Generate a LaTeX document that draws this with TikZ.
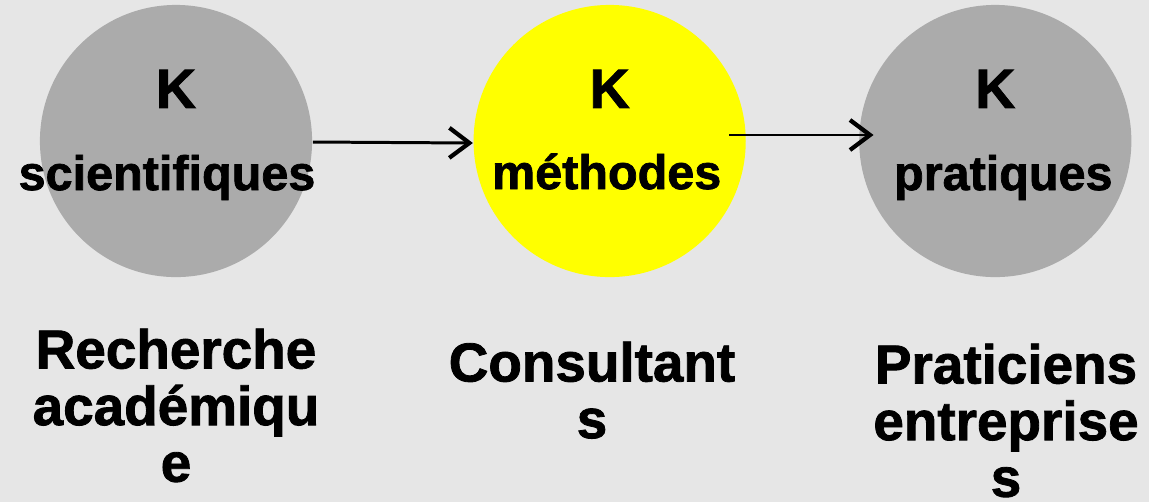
\documentclass[tikz,border=0pt]{standalone}
\usepackage{fontspec}
\setmainfont{Liberation Sans}[BoldFeatures={FakeBold=1.5}]
\usetikzlibrary{arrows.meta,positioning}
\definecolor{bgray}{HTML}{E6E6E6}
\definecolor{kgray}{HTML}{ABABAB}
\definecolor{kyellow}{HTML}{FFFF00}
\tikzset{
  kcirc/.style={circle, draw=none, minimum size=2.72cm, inner sep=0pt},
  bigk/.style={anchor=base, inner sep=0pt, font=\fontsize{15.8}{18}\selectfont\bfseries},
  kname/.style={anchor=base, inner sep=0pt, font=\fontsize{13.8}{16}\selectfont\bfseries},
  actor/.style={anchor=north, inner sep=0pt, align=center, font=\fontsize{15.6}{16.1}\selectfont\bfseries},
  flow/.style={-{Straight Barb[length=2mm, width=3mm, line width=1.2pt]}, draw=black},
}

\begin{document}
\begin{tikzpicture}[x=0.01cm, y=-0.01cm]
% background and margins
\useasboundingbox (0,0) rectangle (1149,502);
\fill[bgray] (0,0) rectangle (1149,502);
\node[kcirc, fill=kgray] (sci) at (176,141) {};
\node[kcirc, fill=kyellow, right=1.6cm of sci] (meth) {};
\node[kcirc, fill=kgray, right=1.12cm of meth] (prat) {};
% texts in the circles
\node[bigk] (sciK) at ([yshift=0.33cm]sci.center) {K};
\node[kname] (sciT) at ([xshift=-0.09cm, yshift=-0.49cm]sci.center) {scientifiques};
\node[bigk] (methK) at ([yshift=0.33cm]meth.center) {K};
\node[kname] (methT) at ([xshift=-0.03cm, yshift=-0.48cm]meth.center) {méthodes};
\node[bigk] (pratK) at ([yshift=0.33cm]prat.center) {K};
\node[kname] (pratT) at ([xshift=0.08cm, yshift=-0.49cm]prat.center) {pratiques};
% who holds them
\node[actor] (rech) at (176,328) {Recherche\\académiqu\\e};
\node[actor] (cons) at (592,341) {Consultant\\s};
\node[actor] (prac) at (1006,343) {Praticiens\\entreprise\\s};
\draw[flow, line width=0.85pt] ([yshift=-0.01cm]sci.east) -- ([yshift=-0.02cm]meth.west);
\draw[flow, line width=0.6pt] ([shift={(-0.17cm,0.06cm)}]meth.east) -- ([shift={(0.15cm,0.06cm)}]prat.west);
\end{tikzpicture}
\end{document}
